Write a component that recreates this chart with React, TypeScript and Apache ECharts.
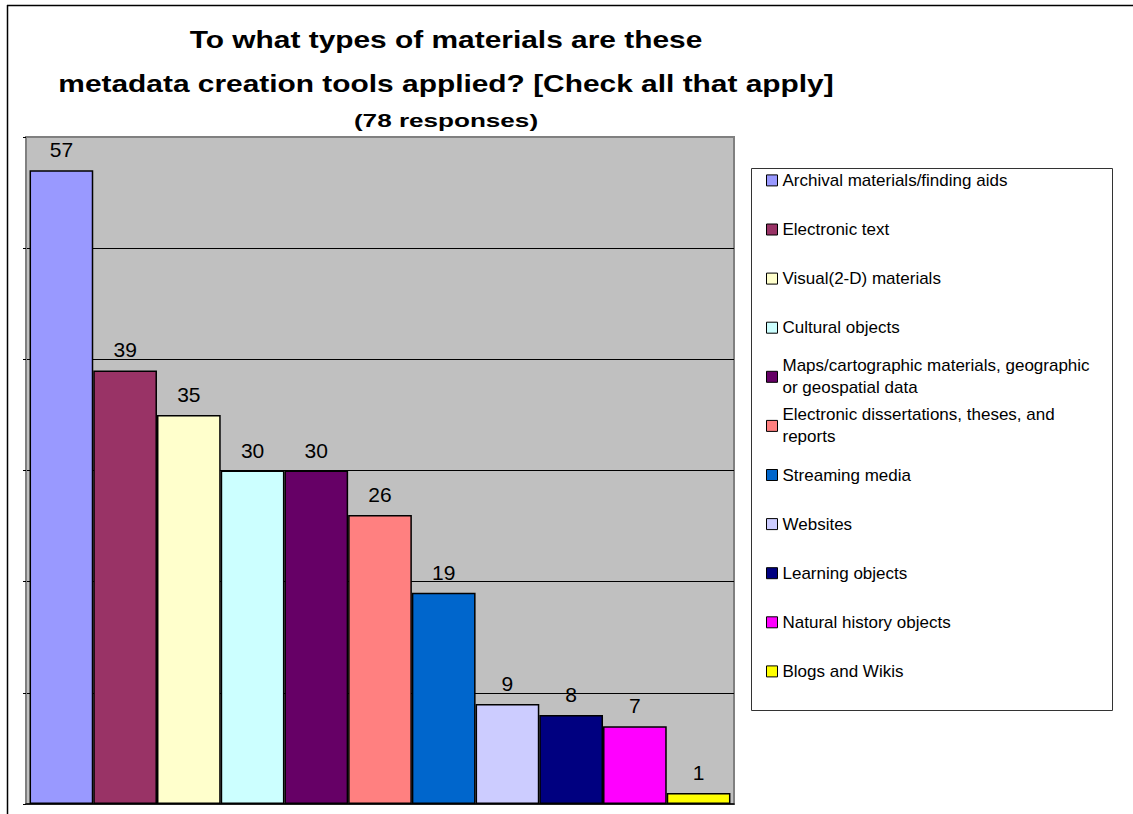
import React, { useEffect, useRef } from 'react';
import * as echarts from 'echarts';

// Survey answers: one bar per type of material
const materials = [
  'Archival materials/finding aids',
  'Electronic text',
  'Visual(2-D) materials',
  'Cultural objects',
  'Maps/cartographic materials, geographic or geospatial data',
  'Electronic dissertations, theses, and reports',
  'Streaming media',
  'Websites',
  'Learning objects',
  'Natural history objects',
  'Blogs and Wikis',
];

// Legend wording with the line breaks used in the key
const legendLabels = [
  'Archival materials/finding aids',
  'Electronic text',
  'Visual(2-D) materials',
  'Cultural objects',
  'Maps/cartographic materials, geographic\nor geospatial data',
  'Electronic dissertations, theses, and\nreports',
  'Streaming media',
  'Websites',
  'Learning objects',
  'Natural history objects',
  'Blogs and Wikis',
];

const responses = [57, 39, 35, 30, 30, 26, 19, 9, 8, 7, 1];

const barColors = [
  '#9999FF', '#993366', '#FFFFCC', '#CCFFFF', '#660066', '#FF8080',
  '#0066CC', '#CCCCFF', '#000080', '#FF00FF', '#FFFF00',
];

const titleLines = [
  'To what types of materials are these',
  'metadata creation tools applied? [Check all that apply]',
  '(78 responses)',
];

const FONT = 'Arial, "Liberation Sans", sans-serif';
const LEGEND_LINE = 22;

export default function App() {
  const ref = useRef<HTMLDivElement>(null);

  useEffect(() => {
    const chart = echarts.init(ref.current!, null, { renderer: 'svg' });

    const legends = materials.map((name, i) => {
      const lines = legendLabels[i].split('\n').length;
      const padTop = (lines - 1) * LEGEND_LINE;
      const boxH = lines * LEGEND_LINE + padTop;
      const centerY = 180.4 + 49.1 * i;
      return {
        data: [name],
        orient: 'vertical',
        left: 766,
        top: centerY - boxH / 2,
        padding: 0,
        itemWidth: 11,
        itemHeight: 11,
        icon: 'rect',
        selectedMode: false,
        formatter: () => legendLabels[i],
        itemStyle: { borderColor: '#000', borderWidth: 1 },
        textStyle: {
          color: '#000',
          fontSize: 17,
          fontFamily: FONT,
          lineHeight: LEGEND_LINE,
          padding: [padTop, 0, 0, 0],
          backgroundColor: 'rgba(0,0,0,0)',
        },
      };
    });

    const series = materials.map((name, i) => ({
      name,
      type: 'bar',
      data: [responses[i]],
      barGap: '0%',
      barCategoryGap: '1%',
      itemStyle: { color: barColors[i], borderColor: '#000', borderWidth: 1.5 },
      label: {
        show: true,
        position: 'top',
        distance: 10,
        color: '#000',
        fontSize: 21,
        fontFamily: FONT,
      },
    }));

    // Wide-set heading lines, drawn as stretched bold text
    const heading = (text: string, y: number, size: number, stretch: number) => ({
      type: 'text',
      x: 446,
      y,
      scaleX: stretch,
      style: {
        text,
        align: 'center',
        verticalAlign: 'middle',
        font: `bold ${size}px ${FONT}`,
        fill: '#000',
      },
    });

    chart.setOption({
      animation: false,
      backgroundColor: '#fff',
      grid: {
        left: 26,
        right: 399,
        top: 137,
        bottom: 10,
        show: true,
        backgroundColor: '#C0C0C0',
        borderColor: '#808080',
        borderWidth: 2,
      },
      xAxis: {
        type: 'category',
        data: [''],
        axisLine: { lineStyle: { color: '#000', width: 1.5 } },
        axisTick: { show: false },
        axisLabel: { show: false },
      },
      yAxis: {
        type: 'value',
        min: 0,
        max: 60,
        interval: 10,
        axisLabel: { show: false },
        axisLine: { show: true, lineStyle: { color: '#808080', width: 2 } },
        axisTick: { show: true, length: 3, lineStyle: { color: '#000' } },
        splitLine: {
          show: true,
          showMinLine: false,
          showMaxLine: false,
          lineStyle: { color: '#000', width: 1 },
        },
      },
      legend: legends,
      series,
      graphic: [
        {
          type: 'line',
          shape: { x1: 7, y1: 5.5, x2: 1133, y2: 5.5 },
          style: { stroke: '#000', lineWidth: 1.5 },
        },
        {
          type: 'line',
          shape: { x1: 7.5, y1: 5, x2: 7.5, y2: 814 },
          style: { stroke: '#000', lineWidth: 1.5 },
        },
        {
          type: 'rect',
          z: -1,
          shape: { x: 751.5, y: 168.5, width: 361, height: 542 },
          style: { fill: '#fff', stroke: '#333', lineWidth: 1 },
        },
        heading(titleLines[0], 40, 23, 1.3),
        heading(titleLines[1], 84, 23, 1.3),
        heading(titleLines[2], 121, 18, 1.45),
      ],
    });

    return () => chart.dispose();
  }, []);

  return (
    <div
      ref={ref}
      style={{ position: 'fixed', left: 0, top: 0, width: 1133, height: 814, background: '#fff' }}
    />
  );
}
